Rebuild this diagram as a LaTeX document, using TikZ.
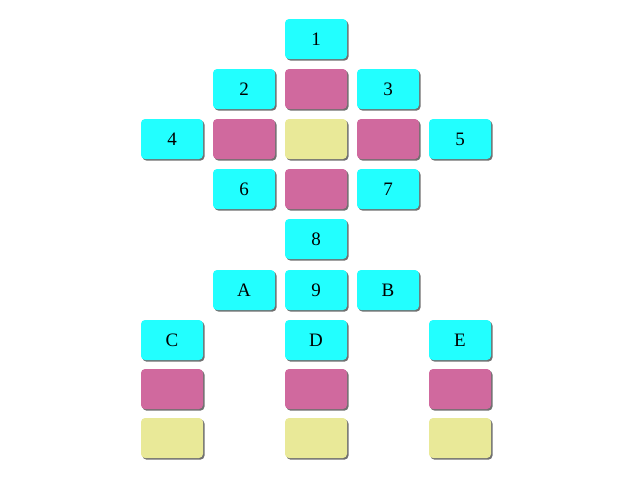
\documentclass[tikz,border=0pt]{standalone}
\usepackage{fontspec}
\setmainfont{Liberation Serif}
\usetikzlibrary{shadows}
\definecolor{boxcyan}{RGB}{34,255,255}
\definecolor{boxpink}{RGB}{208,105,158}
\definecolor{boxyellow}{RGB}{233,233,152}
\begin{document}
\begin{tikzpicture}[x=1pt,y=-1pt,font=\fontsize{19}{22}\selectfont]
  \tikzset{
    cell/.style={rounded corners=4pt,minimum width=62pt,minimum height=40pt,
      inner sep=0pt,drop shadow={shadow xshift=1.5pt,shadow yshift=-1.6pt,
      fill=black!75,opacity=0.75}},
    keycell/.style={cell,fill=boxcyan},
    pinkcell/.style={cell,fill=boxpink},
    yellowcell/.style={cell,fill=boxyellow}
  }
  \useasboundingbox (0,0) rectangle (632,482);

  % upper block
  \node[keycell] (n1) at (316,39) {1};
  \node[keycell] (n2) at (244,89) {2};
  \node[pinkcell] (p12) at (316,89) {};
  \node[keycell] (n3) at (388,89) {3};
  \node[keycell] (n4) at (172,139) {4};
  \node[pinkcell] (p24) at (244,139) {};
  \node[yellowcell] (ymid) at (316,139) {};
  \node[pinkcell] (p35) at (388,139) {};
  \node[keycell] (n5) at (460,139) {5};
  \node[keycell] (n6) at (244,189) {6};
  \node[pinkcell] (p67) at (316,189) {};
  \node[keycell] (n7) at (388,189) {7};
  \node[keycell] (n8) at (316,239) {8};

  % lower block
  \node[keycell] (nA) at (244,290) {A};
  \node[keycell] (n9) at (316,290) {9};
  \node[keycell] (nB) at (388,290) {B};
  \node[keycell] (nC) at (172,340) {C};
  \node[keycell] (nD) at (316,340) {D};
  \node[keycell] (nE) at (460,340) {E};
  \node[pinkcell] (pC) at (172,389) {};
  \node[pinkcell] (pD) at (316,389) {};
  \node[pinkcell] (pE) at (460,389) {};
  \node[yellowcell] (yC) at (172,438) {};
  \node[yellowcell] (yD) at (316,438) {};
  \node[yellowcell] (yE) at (460,438) {};
\end{tikzpicture}
\end{document}
